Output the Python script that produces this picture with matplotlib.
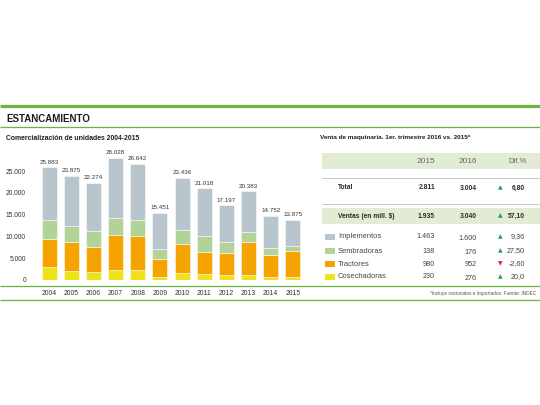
import matplotlib
matplotlib.use("Agg")
import matplotlib.pyplot as plt
from matplotlib.patches import Rectangle
from matplotlib.lines import Line2D

plt.rcParams['font.family'] = ['Liberation Sans', 'DejaVu Sans']

# ---- data ----
years = ['2004', '2005', '2006', '2007', '2008', '2009', '2010', '2011', '2012', '2013', '2014', '2015']
totals = [25883, 23875, 22274, 28028, 26642, 15451, 23436, 21018, 17197, 20383, 14752, 13875]
total_labels = ['25.883', '23.875', '22.274', '28.028', '26.642', '15.451', '23.436',
                '21.018', '17.197', '20.383', '14.752', '13.875']
cosechadoras = [3050, 2150, 1850, 2400, 2300, 780, 1550, 1400, 1100, 1150, 800, 700]
tractores = [6270, 6570, 5810, 7870, 7800, 3970, 6650, 4970, 5040, 7570, 5040, 5960]
sembradoras = [4430, 3670, 3520, 4050, 3590, 2290, 3360, 3670, 2600, 2370, 1610, 1150]
implementos = [12133, 11485, 11094, 13708, 12952, 8411, 11876, 10978, 8457, 9293, 7302, 6065]
yticks = [0, 5000, 10000, 15000, 20000, 25000]
ytick_labels = ['0', '5.000', '10.000', '15.000', '20.000', '25.000']

tbl_cols = ['2015', '2016', 'Dif.%']
tbl_main_rows = ['Total', 'Ventas (en mill. $)']
tbl_main_2015 = ['2.811', '1.935']
tbl_main_2016 = ['3.004', '3.040']
tbl_main_dif = ['6,80', '57,10']
tbl_main_up = [True, True]
tbl_rows = ['Implementos', 'Sembradoras', 'Tractores', 'Cosechadoras']
tbl_2015 = ['1.463', '138', '980', '230']
tbl_2016 = ['1.600', '176', '952', '276']
tbl_dif = ['9,36', '27,50', '-2,60', '20,0']
tbl_up = [True, True, False, True]

# ---- styles ----
C_IMP = '#b9c5cd'
C_SEM = '#b2d397'
C_TRA = '#f4a300'
C_COS = '#eee21c'
C_GREEN = '#6bb342'
C_BAND = '#e2ecd5'
C_TXT = '#333333'
W, H = 540, 405

fig = plt.figure(figsize=(W / 72, H / 72), dpi=72)
fig.patch.set_facecolor('white')

def fx(x):
    return x / W

def fy(y):
    return 1 - y / H

def hline(y, x0=0, x1=W, color=C_GREEN, lw=1.2):
    fig.add_artist(Line2D([fx(x0), fx(x1)], [fy(y), fy(y)], color=color, lw=lw,
                          transform=fig.transFigure, solid_capstyle='butt'))

def rect(x0, y0, x1, y1, color):
    fig.add_artist(Rectangle((fx(x0), fy(y1)), fx(x1) - fx(x0), fy(y0) - fy(y1),
                             transform=fig.transFigure, facecolor=color, edgecolor='none'))

def text(x, y, s, **kw):
    fig.text(fx(x), fy(y), s, va='center', **kw)

# ---- frame lines & titles ----
hline(106, lw=3.2)
hline(127, lw=1.3)
hline(286, lw=1.3)
hline(300, lw=1.3)
text(6, 119, 'ESTANCAMIENTO', fontsize=9.8, fontweight='bold', color='#1e1e1e')
text(6, 139, 'Comercialización de unidades 2004-2015', fontsize=6.9, fontweight='bold', color='#1e1e1e')
text(320, 137, 'Venta de maquinaria. 1er. trimestre 2016 vs. 2015*', fontsize=6.4,
     fontweight='bold', color='#1e1e1e')

# ---- bar chart ----
y_top_px, y_base_px = 150, 280
ymax = (y_base_px - y_top_px) / 109 * 25000
ax = fig.add_axes([fx(38), fy(y_base_px), fx(304) - fx(38), (y_base_px - y_top_px) / H])
xs = list(range(len(years)))
bw = 0.68
ax.bar(xs, cosechadoras, bw, color=C_COS, edgecolor='white', linewidth=0.5)
b1 = [c for c in cosechadoras]
ax.bar(xs, tractores, bw, bottom=b1, color=C_TRA, edgecolor='white', linewidth=0.5)
b2 = [a + b for a, b in zip(b1, tractores)]
ax.bar(xs, sembradoras, bw, bottom=b2, color=C_SEM, edgecolor='white', linewidth=0.5)
b3 = [a + b for a, b in zip(b2, sembradoras)]
ax.bar(xs, implementos, bw, bottom=b3, color=C_IMP, edgecolor='white', linewidth=0.5)
for x, t, lab in zip(xs, totals, total_labels):
    ax.annotate(lab, (x, t), xytext=(0, 2.5), textcoords='offset points', ha='center',
                va='bottom', fontsize=6.2, color=C_TXT)
ax.set_xlim(-0.5, len(years) - 0.5)
ax.set_ylim(0, ymax)
ax.set_yticks(yticks)
ax.set_yticklabels(ytick_labels)
ax.set_xticks(xs)
ax.set_xticklabels(years)
ax.tick_params(axis='y', length=0, pad=12, labelsize=6.6, labelcolor=C_TXT)
ax.tick_params(axis='x', length=0, pad=10, labelsize=6.7, labelcolor=C_TXT)
for s in ax.spines.values():
    s.set_visible(False)
ax.patch.set_alpha(0)

# ---- table ----
X_LBL, X_C1, X_C2, X_TRI, X_DIF = 338, 435, 477, 500.5, 525
rect(322, 153, W, 169, C_BAND)
rect(322, 208, W, 224, C_BAND)
hline(178, 322, W, color='#c8c8c8', lw=1)
hline(204, 322, W, color='#c8c8c8', lw=1)
text(X_C1, 161.5, tbl_cols[0], fontsize=8.2, color='#666666', ha='right')
text(X_C2, 161.5, tbl_cols[1], fontsize=8.2, color='#666666', ha='right')
text(X_DIF + 2, 161.5, tbl_cols[2], fontsize=7.6, color='#666666', ha='right')

def tri(y, up):
    fig.text(fx(X_TRI), fy(y), '▲' if up else '▼', ha='center', va='center', fontsize=6,
             color='#2e9a4c' if up else '#d6262c', family='DejaVu Sans')

main_y = [188, 216]
for y, lab, v1, v2, d, up in zip(main_y, tbl_main_rows, tbl_main_2015, tbl_main_2016,
                                 tbl_main_dif, tbl_main_up):
    text(X_LBL, y, lab, fontsize=6.6, fontweight='bold', color='#2a2a2a')
    text(X_C1, y, v1, fontsize=6.8, fontweight='bold', color='#2a2a2a', ha='right')
    text(X_C2, y + 1, v2, fontsize=6.8, fontweight='bold', color='#2a2a2a', ha='right')
    text(X_DIF, y, d, fontsize=6.8, fontweight='bold', color='#2a2a2a', ha='right')
    tri(y, up)

row_y = [237, 251, 264, 277]
row_cols = [C_IMP, C_SEM, C_TRA, C_COS]
for y, lab, v1, v2, d, up, c in zip(row_y, tbl_rows, tbl_2015, tbl_2016, tbl_dif, tbl_up, row_cols):
    rect(325, y - 3, 335, y + 3, c)
    text(X_LBL, y, lab, fontsize=7.5, color='#444444')
    text(X_C1, y, v1, fontsize=7.2, color='#444444', ha='right')
    text(X_C2, y + 1, v2, fontsize=7.2, color='#444444', ha='right')
    text(X_DIF, y, d, fontsize=7.2, color='#444444', ha='right')
    tri(y, up)

text(536, 293, '*Incluye nacionales e importados. Fuente: INDEC', fontsize=4.8, color='#555555', ha='right')

fig.savefig('out.png', dpi=72, facecolor='white')
